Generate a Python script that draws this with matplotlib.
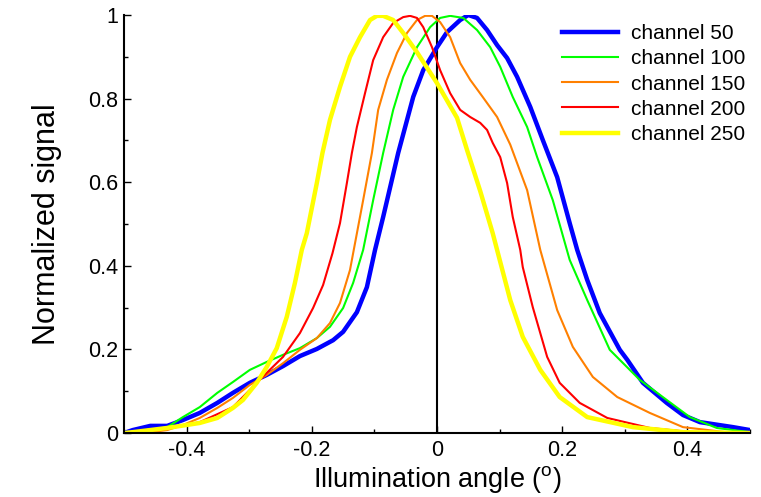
import matplotlib
matplotlib.use("Agg")
import matplotlib.pyplot as plt
from matplotlib.ticker import MultipleLocator, FuncFormatter

plt.rcParams['font.family'] = ['Liberation Sans', 'DejaVu Sans']
plt.rcParams['mathtext.fontset'] = 'custom'
plt.rcParams['mathtext.rm'] = 'Liberation Sans'
plt.rcParams['axes.unicode_minus'] = False

# channel 50
x50 = [-0.5, -0.486, -0.458, -0.431, -0.406, -0.379, -0.351, -0.326, -0.299, -0.272,
       -0.246, -0.219, -0.192, -0.166, -0.150, -0.128, -0.112, -0.099, -0.086, -0.062,
       -0.038, -0.022, 0.0, 0.016, 0.037, 0.050, 0.064, 0.080, 0.096, 0.112,
       0.128, 0.149, 0.169, 0.192, 0.212, 0.224, 0.240, 0.260, 0.292, 0.304,
       0.329, 0.367, 0.393, 0.420, 0.473, 0.5]
y50 = [0.0, 0.007, 0.017, 0.017, 0.031, 0.048, 0.072, 0.096, 0.120, 0.139,
       0.160, 0.184, 0.201, 0.222, 0.242, 0.289, 0.349, 0.438, 0.517, 0.67,
       0.804, 0.868, 0.923, 0.959, 0.988, 1.0, 0.993, 0.964, 0.928, 0.897,
       0.852, 0.780, 0.701, 0.612, 0.502, 0.438, 0.366, 0.287, 0.199, 0.175,
       0.120, 0.072, 0.043, 0.026, 0.014, 0.007]

# channel 100
x100 = [-0.5, -0.458, -0.431, -0.406, -0.379, -0.351, -0.326, -0.299, -0.272, -0.246,
        -0.219, -0.192, -0.171, -0.150, -0.134, -0.118, -0.102, -0.086, -0.070, -0.054,
        -0.032, -0.011, 0.005, 0.021, 0.042, 0.064, 0.085, 0.101, 0.121, 0.144,
        0.160, 0.185, 0.212, 0.240, 0.276, 0.324, 0.367, 0.404, 0.447, 0.5]
y100 = [0.0, 0.007, 0.014, 0.038, 0.062, 0.096, 0.122, 0.151, 0.170, 0.187,
        0.203, 0.227, 0.254, 0.299, 0.359, 0.438, 0.557, 0.67, 0.773, 0.852,
        0.923, 0.971, 0.993, 0.998, 0.993, 0.964, 0.923, 0.876, 0.804, 0.732,
        0.660, 0.557, 0.414, 0.318, 0.199, 0.127, 0.079, 0.038, 0.012, 0.002]

# channel 150
x150 = [-0.5, -0.458, -0.431, -0.406, -0.379, -0.351, -0.326, -0.299, -0.272, -0.246,
        -0.219, -0.192, -0.171, -0.155, -0.139, -0.133, -0.118, -0.104, -0.094, -0.080,
        -0.064, -0.048, -0.032, -0.019, -0.008, 0.005, 0.021, 0.037, 0.053, 0.073,
        0.096, 0.117, 0.144, 0.165, 0.192, 0.217, 0.249, 0.288, 0.340, 0.393,
        0.473, 0.5]
y150 = [0.0, 0.002, 0.007, 0.019, 0.036, 0.060, 0.084, 0.115, 0.139, 0.167,
        0.199, 0.227, 0.263, 0.311, 0.390, 0.438, 0.557, 0.67, 0.773, 0.845,
        0.909, 0.957, 0.988, 0.998, 0.998, 0.983, 0.947, 0.885, 0.845, 0.804,
        0.756, 0.69, 0.581, 0.438, 0.294, 0.206, 0.134, 0.086, 0.048, 0.014,
        0.0, 0.0]

# channel 200
x200 = [-0.5, -0.431, -0.379, -0.326, -0.299, -0.272, -0.246, -0.219, -0.198, -0.182,
        -0.167, -0.155, -0.144, -0.136, -0.128, -0.115, -0.102, -0.086, -0.070, -0.054,
        -0.043, -0.032, -0.022, -0.008, 0.005, 0.021, 0.037, 0.053, 0.069, 0.080,
        0.089, 0.101, 0.112, 0.121, 0.133, 0.137, 0.153, 0.176, 0.196, 0.228,
        0.272, 0.340, 0.420, 0.5]
y200 = [0.0, 0.010, 0.026, 0.062, 0.103, 0.144, 0.182, 0.239, 0.299, 0.354,
        0.43, 0.502, 0.598, 0.67, 0.732, 0.813, 0.892, 0.947, 0.981, 0.995,
        0.998, 0.993, 0.971, 0.923, 0.868, 0.813, 0.773, 0.756, 0.742, 0.725,
        0.694, 0.660, 0.598, 0.517, 0.438, 0.397, 0.301, 0.182, 0.120, 0.072,
        0.036, 0.012, 0.0, 0.0]

# channel 250
x250 = [-0.5, -0.486, -0.431, -0.379, -0.351, -0.326, -0.310, -0.288, -0.272, -0.256,
        -0.240, -0.227, -0.216, -0.208, -0.192, -0.183, -0.171, -0.155, -0.139, -0.123,
        -0.107, -0.096, -0.086, -0.070, -0.054, -0.032, 0.0, 0.032, 0.048, 0.069,
        0.089, 0.096, 0.117, 0.137, 0.165, 0.196, 0.240, 0.313, 0.393, 0.5]
y250 = [0.0, 0.002, 0.012, 0.024, 0.036, 0.060, 0.079, 0.120, 0.158, 0.203,
        0.278, 0.359, 0.438, 0.478, 0.598, 0.67, 0.749, 0.828, 0.900, 0.947,
        0.988, 0.998, 0.998, 0.988, 0.957, 0.911, 0.837, 0.754, 0.677, 0.579,
        0.478, 0.438, 0.318, 0.230, 0.151, 0.086, 0.038, 0.014, 0.002, 0.0]

series = [
    (x50, y50, '#0000ff', 3.2, 'channel 50'),
    (x100, y100, '#00ff00', 1.5, 'channel 100'),
    (x150, y150, '#ff8000', 1.5, 'channel 150'),
    (x200, y200, '#ff0000', 1.5, 'channel 200'),
    (x250, y250, '#ffff00', 3.2, 'channel 250'),
]

fig = plt.figure(figsize=(7.61, 4.97), dpi=100)
ax = fig.add_axes([0.163, 0.1288, 0.8225, 0.841])

for xs, ys, c, lw, lab in series:
    ax.plot(xs, ys, color=c, lw=lw, label=lab, solid_joinstyle='round')

ax.axvline(0, color='black', lw=1.5, zorder=1)

ax.set_xlim(-0.5, 0.5)
ax.set_ylim(0, 1)
for s in ['top', 'right']:
    ax.spines[s].set_visible(False)
for s in ['left', 'bottom']:
    ax.spines[s].set_linewidth(1.5)

ax.xaxis.set_major_locator(MultipleLocator(0.2))
ax.xaxis.set_minor_locator(MultipleLocator(0.1))
ax.yaxis.set_major_locator(MultipleLocator(0.2))
ax.yaxis.set_minor_locator(MultipleLocator(0.1))
fmt = FuncFormatter(lambda v, p: ('%g' % round(v, 2)))
ax.xaxis.set_major_formatter(fmt)
ax.yaxis.set_major_formatter(fmt)
ax.tick_params(which='both', direction='in', labelsize=15.5, width=1)
ax.tick_params(which='major', length=5)
ax.tick_params(which='minor', length=3)
ax.tick_params(axis='y', pad=4)
ax.tick_params(axis='x', pad=5)

ax.set_xlabel('Illumination angle ($\\mathregular{^o}$)', fontsize=19.5, labelpad=2)
ax.set_ylabel('Normalized signal', fontsize=22, labelpad=19)

fig.legend(loc='upper left', frameon=False, fontsize=15, handlelength=2.7,
           handletextpad=0.6, labelspacing=0.3, borderpad=0, borderaxespad=0,
           bbox_to_anchor=(562 / 761, 1 - 24 / 497))

fig.savefig('out.png', dpi=100)
